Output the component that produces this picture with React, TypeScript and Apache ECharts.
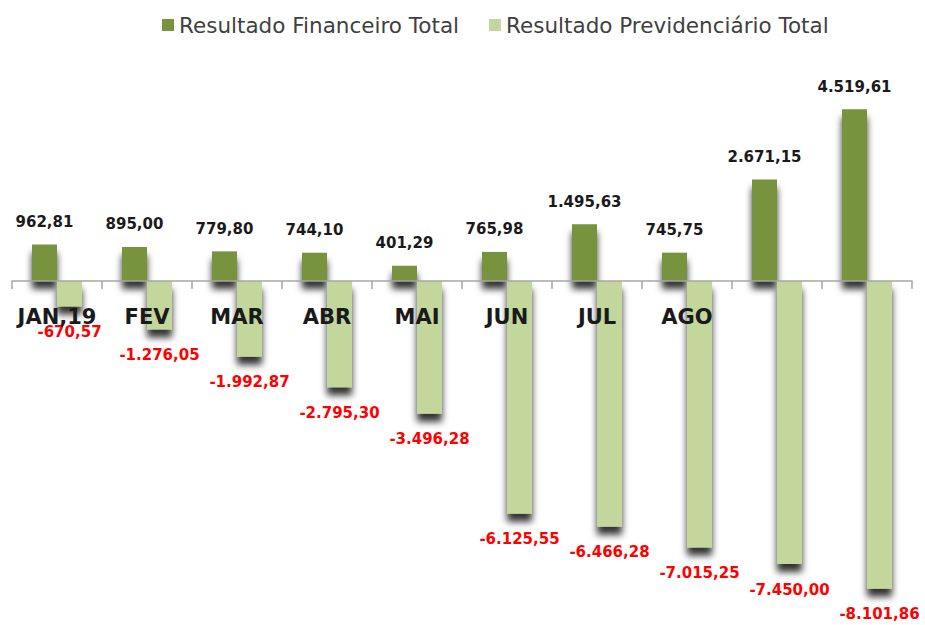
import React, { useEffect, useRef } from "react";
import * as echarts from "echarts";

const categories = ["JAN,19", "FEV", "MAR", "ABR", "MAI", "JUN", "JUL", "AGO", "", ""];
const seriesNames = ["Resultado Financeiro Total", "Resultado Previdenciário Total"];
const financeiro = [962.81, 895.0, 779.8, 744.1, 401.29, 765.98, 1495.63, 745.75, 2671.15, 4519.61];
const previdenciario = [-670.57, -1276.05, -1992.87, -2795.3, -3496.28, -6125.55, -6466.28, -7015.25, -7450.0, -8101.86];

function fmtBR(v: number): string {
  const neg = v < 0;
  const abs = Math.abs(v);
  const [intPart, dec] = abs.toFixed(2).split(".");
  const withDots = intPart.replace(/\B(?=(\d{3})+(?!\d))/g, ".");
  return (neg ? "-" : "") + withDots + "," + dec;
}

export default function App() {
  const ref = useRef<HTMLDivElement>(null);
  useEffect(() => {
    if (!ref.current) return;
    const chart = echarts.init(ref.current, undefined, { renderer: "svg" });
    const shadow = {
      shadowColor: "rgba(0,0,0,0.8)",
      shadowBlur: 7,
      shadowOffsetX: 0,
      shadowOffsetY: 8,
    };
    const gridTop = 91;
    const gridHeight = 532;
    const yMin = -9000;
    const yMax = 5000;
    const zeroY = gridTop + (yMax / (yMax - yMin)) * gridHeight;
    const axisOffset = zeroY - (gridTop + gridHeight);
    chart.setOption({
      animation: false,
      backgroundColor: "#ffffff",
      legend: {
        left: 157,
        top: 9,
        itemWidth: 12,
        itemHeight: 12,
        itemGap: 30,
        icon: "rect",
        textStyle: { fontFamily: "DejaVu Sans", fontSize: 21.5, color: "#404040" },
        data: seriesNames,
      },
      grid: { left: 12, right: 13, top: gridTop, height: gridHeight, containLabel: false, outerBoundsMode: "none" },
      xAxis: {
        type: "category",
        data: categories,
        z: 10,
        position: "bottom",
        offset: axisOffset,
        axisLine: { onZero: false, lineStyle: { color: "#A6A6A6", width: 1.5 } },
        axisTick: { show: true, length: 8, lineStyle: { color: "#A6A6A6", width: 1.5 } },
        axisLabel: {
          interval: 0,
          margin: 25,
          fontFamily: "DejaVu Sans",
          fontWeight: "bold",
          fontSize: 21,
          color: "#1a1a1a",
        },
      },
      yAxis: {
        type: "value",
        min: yMin,
        max: yMax,
        show: false,
        splitLine: { show: false },
      },
      series: [
        {
          name: seriesNames[0],
          type: "bar",
          data: financeiro,
          barWidth: 25,
          barGap: "0%",
          itemStyle: { color: "#77933C", ...shadow },
          label: {
            show: true,
            position: "top",
            distance: 15,
            formatter: (p: any) => fmtBR(p.value),
            fontFamily: "DejaVu Sans",
            fontWeight: "bold",
            fontSize: 15,
            color: "#1a1a1a",
          },
        },
        {
          name: seriesNames[1],
          type: "bar",
          data: previdenciario,
          barWidth: 25,
          barGap: "0%",
          itemStyle: { color: "#C3D69B", ...shadow },
          label: {
            show: true,
            position: "bottom",
            distance: 18,
            formatter: (p: any) => fmtBR(p.value),
            fontFamily: "DejaVu Sans",
            fontWeight: "bold",
            fontSize: 15,
            color: "#FF0000",
          },
        },
      ],
    });
    return () => chart.dispose();
  }, []);
  return (
    <div
      ref={ref}
      style={{ position: "absolute", left: 0, top: 0, width: 925, height: 625 }}
    />
  );
}
